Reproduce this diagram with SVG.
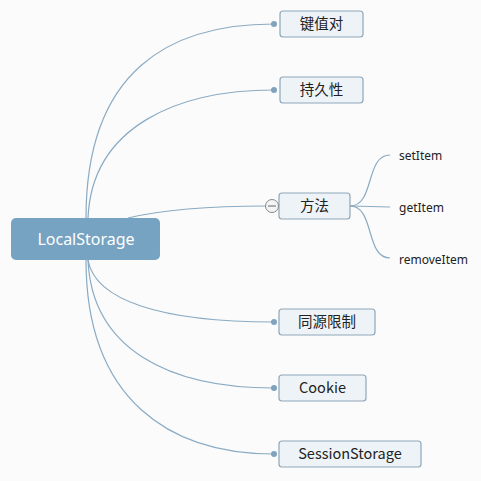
<svg xmlns="http://www.w3.org/2000/svg" width="481" height="481" viewBox="0 0 481 481">
<style>
.c{fill:none;stroke:#8aabc4;stroke-width:1.2}
.n{fill:#eef3f7;stroke:#8ea7ba;stroke-width:1.2}
.t{font-family:"Noto Sans CJK SC","Noto Sans",sans-serif;font-size:14.5px;fill:#222;text-anchor:middle}
.s{font-family:"Noto Sans","Liberation Sans",sans-serif;font-size:12px;fill:#222}
.d{fill:#7fa3bf}
</style>
<rect width="481" height="481" fill="#fbfbfb"/>
<g id="connectors">
<path class="c" d="M86,218 C86,70 170,24 274,24"/>
<path class="c" d="M88,218 C92,125 180,90 274,90"/>
<path class="c" d="M128,218 C170,208 220,206 266,206"/>
<path class="c" d="M88,260 C95,300 160,322 274,322"/>
<path class="c" d="M88,260 C92,350 170,388 274,388"/>
<path class="c" d="M86,260 C86,400 170,454 274,454"/>
<path class="c" d="M350,206 C375,206 365,155 390,155"/>
<path class="c" d="M350,206 L390,207"/>
<path class="c" d="M350,206 C375,206 365,258 390,258"/>
<circle class="d" cx="274" cy="24" r="3"/>
<circle class="d" cx="274" cy="90" r="3"/>
<circle class="d" cx="274" cy="322" r="3"/>
<circle class="d" cx="274" cy="388" r="3"/>
<circle class="d" cx="274" cy="454" r="3"/>
</g>
<g id="root">
<rect x="11" y="218" width="149" height="42" rx="5" fill="#76a3c2"/>
<text x="86" y="245" font-family="'Noto Sans','Liberation Sans',sans-serif" font-size="16" fill="#fff" text-anchor="middle">LocalStorage</text>
</g>
<g id="n1"><rect class="n" x="280" y="11" width="83" height="26" rx="3"/><text class="t" x="321.5" y="29">键值对</text></g>
<g id="n2"><rect class="n" x="280" y="77" width="83" height="26" rx="3"/><text class="t" x="321.5" y="95">持久性</text></g>
<g id="n3"><rect class="n" x="279" y="193" width="71" height="26" rx="3"/><text class="t" x="314.5" y="211">方法</text>
<circle cx="272" cy="206" r="6.5" fill="#f4f4f4" stroke="#888" stroke-width="1"/><line x1="268" y1="206" x2="276" y2="206" stroke="#666" stroke-width="1"/></g>
<g id="n3a"><text class="s" x="399" y="160">setItem</text></g>
<g id="n3b"><text class="s" x="399" y="212">getItem</text></g>
<g id="n3c"><text class="s" x="399" y="264">removeItem</text></g>
<g id="n4"><rect class="n" x="279" y="309" width="96" height="26" rx="3"/><text class="t" x="327" y="327">同源限制</text></g>
<g id="n5"><rect class="n" x="279" y="375" width="87" height="26" rx="3"/><text class="t" x="322.5" y="393">Cookie</text></g>
<g id="n6"><rect class="n" x="279" y="441" width="142" height="26" rx="3"/><text class="t" x="350" y="459">SessionStorage</text></g>
</svg>
